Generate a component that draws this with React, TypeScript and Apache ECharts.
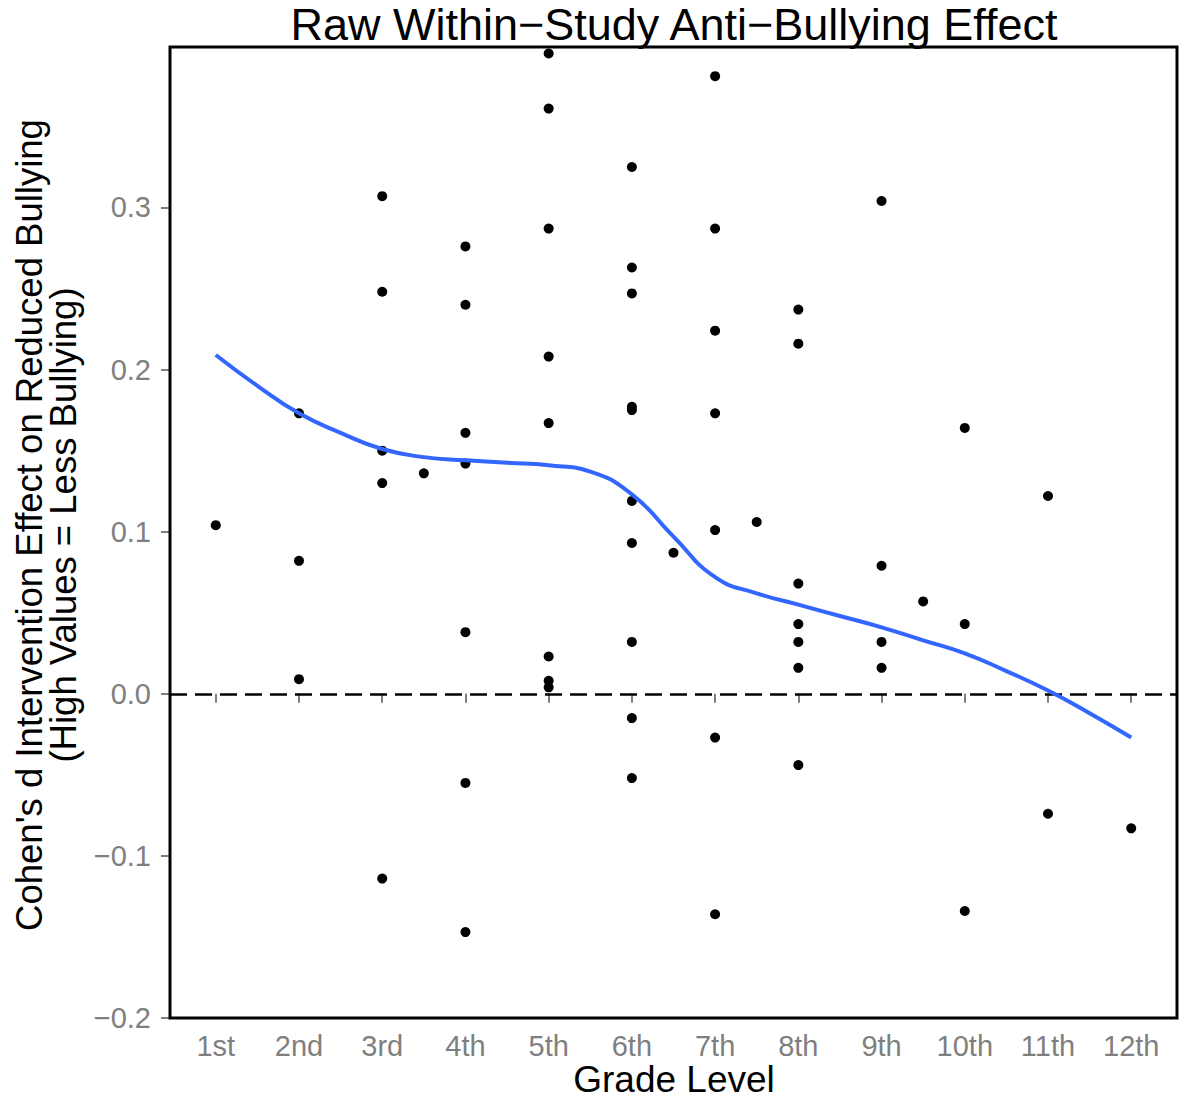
import React, { useEffect, useRef } from "react";
import * as echarts from "echarts";

const gradeLabels = ["1st", "2nd", "3rd", "4th", "5th", "6th", "7th", "8th", "9th", "10th", "11th", "12th"];
const gradeTicks = [1, 2, 3, 4, 5, 6, 7, 8, 9, 10, 11, 12];
const yTicks = [-0.2, -0.1, 0, 0.1, 0.2, 0.3];

const pointGrade = [
  1,
  2, 2, 2,
  3, 3, 3, 3, 3,
  3.5,
  4, 4, 4, 4, 4, 4, 4,
  5, 5, 5, 5, 5, 5, 5, 5,
  6, 6, 6, 6, 6, 6, 6, 6, 6, 6,
  6.5,
  7, 7, 7, 7, 7, 7, 7,
  7.5,
  8, 8, 8, 8, 8, 8, 8,
  9, 9, 9, 9,
  9.5,
  10, 10, 10,
  11, 11,
  12,
];
const pointEffect = [
  0.104,
  0.173, 0.082, 0.009,
  0.307, 0.248, 0.15, 0.13, -0.114,
  0.136,
  0.276, 0.24, 0.161, 0.142, 0.038, -0.055, -0.147,
  0.395, 0.361, 0.287, 0.208, 0.167, 0.023, 0.008, 0.004,
  0.325, 0.263, 0.247, 0.177, 0.175, 0.119, 0.093, 0.032, -0.015, -0.052,
  0.087,
  0.381, 0.287, 0.224, 0.173, 0.101, -0.027, -0.136,
  0.106,
  0.237, 0.216, 0.068, 0.043, 0.032, 0.016, -0.044,
  0.304, 0.079, 0.032, 0.016,
  0.057,
  0.164, 0.043, -0.134,
  0.122, -0.074,
  -0.083,
];

const smoothGrade = [1, 1.5, 2, 2.5, 3, 3.5, 4, 4.5, 5, 5.5, 6, 6.5, 7, 7.5, 8, 8.5, 9, 9.5, 10, 10.5, 11, 11.5, 12];
const smoothEffect = [
  0.209, 0.19, 0.173, 0.161, 0.151, 0.146, 0.144, 0.1425, 0.141, 0.137, 0.123, 0.097, 0.072,
  0.062, 0.055, 0.048, 0.041, 0.033, 0.025, 0.014, 0.002, -0.012, -0.027,
];

const FONT = "Liberation Sans, Arial, Helvetica, sans-serif";
const GREY = "#7F7F7F";

export default function App() {
  const ref = useRef<HTMLDivElement>(null);

  useEffect(() => {
    if (!ref.current) return;
    const chart = echarts.init(ref.current, null, { renderer: "svg" });
    const fmtMinus = (v: number) => {
      const s = (Math.round(v * 10) / 10).toFixed(1);
      return s.startsWith("-") ? "\u2212" + s.slice(1) : s;
    };
    chart.setOption({
      animation: false,
      backgroundColor: "#ffffff",
      grid: {
        left: 170,
        right: 5,
        top: 47,
        bottom: 80,
        show: true,
        borderColor: "#000000",
        borderWidth: 3,
        backgroundColor: "transparent",
        z: 10,
      },
      xAxis: {
        type: "value",
        min: 0.45,
        max: 12.55,
        axisLine: { show: false },
        splitLine: { show: false },
        axisTick: {
          show: true,
          length: 9,
          customValues: gradeTicks,
          lineStyle: { color: GREY, width: 2 },
        },
        axisLabel: {
          customValues: gradeTicks,
          formatter: (v: number) => gradeLabels[Math.round(v) - 1] ?? "",
          color: GREY,
          fontSize: 29,
          fontFamily: FONT,
          margin: 13,
        },
      },
      yAxis: {
        type: "value",
        min: -0.2,
        max: 0.399,
        axisLine: { show: false },
        splitLine: { show: false },
        axisTick: {
          show: true,
          length: 9,
          customValues: yTicks,
          lineStyle: { color: GREY, width: 2 },
        },
        axisLabel: {
          customValues: yTicks,
          formatter: (v: number) => fmtMinus(v),
          color: GREY,
          fontSize: 29,
          fontFamily: FONT,
          margin: 19,
        },
      },
      graphic: [
        {
          type: "text",
          x: 674,
          y: 24,
          style: {
            text: "Raw Within\u2212Study Anti\u2212Bullying Effect",
            fontSize: 45,
            fontFamily: FONT,
            fill: "#000",
            textAlign: "center",
            textVerticalAlign: "middle",
          },
        },
        {
          type: "text",
          x: 674,
          y: 1079,
          style: {
            text: "Grade Level",
            fontSize: 37,
            fontFamily: FONT,
            fill: "#000",
            textAlign: "center",
            textVerticalAlign: "middle",
          },
        },
        {
          type: "text",
          x: 29,
          y: 525,
          rotation: Math.PI / 2,
          style: {
            text: "Cohen's d Intervention Effect on Reduced Bullying",
            fontSize: 36.5,
            fontFamily: FONT,
            fill: "#000",
            textAlign: "center",
            textVerticalAlign: "middle",
          },
        },
        {
          type: "text",
          x: 63,
          y: 525,
          rotation: Math.PI / 2,
          style: {
            text: "(High Values = Less Bullying)",
            fontSize: 36.5,
            fontFamily: FONT,
            fill: "#000",
            textAlign: "center",
            textVerticalAlign: "middle",
          },
        },
      ],
      series: [
        {
          type: "scatter",
          data: pointGrade.map((g, i) => [g, pointEffect[i]]),
          symbol: "circle",
          symbolSize: 10,
          itemStyle: { color: "#000000", opacity: 1 },
          z: 3,
          markLine: {
            silent: true,
            symbol: ["none", "none"],
            label: { show: false },
            lineStyle: { color: "#000000", width: 2.5, type: [17, 8] },
            data: [{ yAxis: 0 }],
            z: 1,
          },
        },
        {
          type: "line",
          data: smoothGrade.map((g, i) => [g, smoothEffect[i]]),
          smooth: true,
          showSymbol: false,
          lineStyle: { color: "#3366FF", width: 4 },
          z: 4,
        },
      ],
    });
    return () => chart.dispose();
  }, []);

  return (
    <div
      ref={ref}
      style={{ position: "fixed", left: 0, top: 0, width: 1182, height: 1098, background: "#fff" }}
    />
  );
}
